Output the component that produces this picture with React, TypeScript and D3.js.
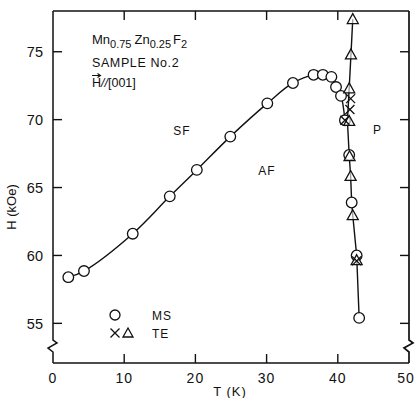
import React from "react";
import * as d3 from "d3";

// MS (circles)
const msT = [2.15, 4.35, 11.2, 16.4, 20.2, 24.9, 30.1, 33.7, 36.6, 37.9, 39.1, 39.75, 40.45, 41.0, 41.6, 41.95, 42.65, 43.0];
const msH = [58.4, 58.85, 61.6, 64.35, 66.3, 68.75, 71.2, 72.7, 73.3, 73.3, 73.15, 72.4, 71.75, 69.95, 67.4, 63.9, 60.0, 55.4];
// TE triangles
const triT = [42.1, 41.85, 41.6, 41.6, 41.65, 41.8, 42.1, 42.65];
const triH = [77.4, 74.8, 72.3, 69.9, 67.3, 65.85, 62.96, 59.65];
// TE crosses
const crossT = [41.8, 41.7, 41.0, 42.65];
const crossH = [71.55, 70.75, 69.95, 59.6];
// P boundary line
const pLineT = [42.1, 41.85, 41.6, 41.35, 41.6, 41.8, 41.95, 42.1, 42.65, 43.0];
const pLineH = [77.4, 74.8, 72.3, 69.9, 67.4, 65.85, 63.9, 62.96, 60.0, 55.4];

const xTicks = [0, 10, 20, 30, 40, 50];
const yTicks = [55, 60, 65, 70, 75];

const L = 53, R = 409, T = 11, B = 363;
const FONT = "'Liberation Sans', Arial, Helvetica, sans-serif";

export default function App() {
  const x = d3.scaleLinear().domain([0, 50]).range([L, R]);
  const y = d3.scaleLinear().domain([52.08, 78]).range([B, T]);

  const sfLine = d3
    .line<number>()
    .x((i) => x(msT[i]))
    .y((i) => y(msH[i]))
    .curve(d3.curveCatmullRom.alpha(0.5))(d3.range(0, 14));

  const pLine = d3
    .line<number>()
    .x((i) => x(pLineT[i]))
    .y((i) => y(pLineH[i]))(d3.range(pLineT.length));

  const tri = (cx: number, cy: number, s = 5.5) =>
    `M${cx},${cy - s}L${cx + s},${cy + s * 0.8}L${cx - s},${cy + s * 0.8}Z`;
  const cross = (cx: number, cy: number, s = 4.5) =>
    `M${cx - s},${cy - s}L${cx + s},${cy + s}M${cx - s},${cy + s}L${cx + s},${cy - s}`;

  const yBreak = 346;
  const zig = (ax: number) =>
    `M${ax},${T}L${ax},${yBreak - 6}L${ax + 4},${yBreak - 3}L${ax - 5},${yBreak + 2}L${ax},${yBreak + 6}L${ax},${B}`;

  return (
    <svg width={415} height={398} style={{ position: "absolute", left: 0, top: 0, background: "#fff" }}>
      <rect width={415} height={398} fill="#fff" />
      {/* frame */}
      <line x1={L} y1={T} x2={R} y2={T} stroke="#111" strokeWidth={1.5} />
      <line x1={L} y1={B} x2={R} y2={B} stroke="#111" strokeWidth={1.7} />
      <path d={zig(L)} fill="none" stroke="#111" strokeWidth={1.5} />
      <path d={zig(R)} fill="none" stroke="#111" strokeWidth={1.7} />
      {/* ticks */}
      {xTicks.slice(1, -1).map((t) => (
        <g key={"xt" + t}>
          <line x1={x(t)} x2={x(t)} y1={B} y2={B - 9} stroke="#111" strokeWidth={1.4} />
          <line x1={x(t)} x2={x(t)} y1={T} y2={T + 9} stroke="#111" strokeWidth={1.4} />
        </g>
      ))}
      {yTicks.map((t) => (
        <g key={"yt" + t}>
          <line x1={L} x2={L + 9} y1={y(t)} y2={y(t)} stroke="#111" strokeWidth={1.4} />
          <line x1={R} x2={R - 9} y1={y(t)} y2={y(t)} stroke="#111" strokeWidth={1.4} />
        </g>
      ))}
      {/* tick labels */}
      {xTicks.map((t) => (
        <text key={"xl" + t} x={t === 50 ? x(t) - 3 : x(t)} y={383} fontSize={14} fontFamily={FONT} textAnchor="middle" fill="#111" letterSpacing={1}>
          {t}
        </text>
      ))}
      {yTicks.map((t) => (
        <text key={"yl" + t} x={43} y={y(t)} dy="0.36em" fontSize={14.5} fontFamily={FONT} textAnchor="end" fill="#111">
          {t}
        </text>
      ))}
      <text x={230} y={396} fontSize={13} fontFamily={FONT} textAnchor="middle" fill="#111" letterSpacing={1}>
        T (K)
      </text>
      <text transform="translate(16,207) rotate(-90)" fontSize={13} fontFamily={FONT} textAnchor="middle" fill="#111">
        H (kOe)
      </text>

      {/* annotations */}
      <text x={92} y={44} fontSize={13} fontFamily={FONT} fill="#111">
        Mn
        <tspan fontSize={11} dy={4}>0.75</tspan>
        <tspan dy={-4} dx={3}>Zn</tspan>
        <tspan fontSize={11} dy={4}>0.25</tspan>
        <tspan dy={-4} dx={2}>F</tspan>
        <tspan fontSize={11} dy={4}>2</tspan>
      </text>
      <text x={92} y={67} fontSize={12.5} fontFamily={FONT} fill="#111" letterSpacing={0.6}>
        SAMPLE No.2
      </text>
      <text x={92} y={87} fontSize={12.5} fontFamily={FONT} fill="#111">
        H<tspan fontStyle="italic">//</tspan>[001]
      </text>
      <path d="M92,75.5L100,75.5M97.5,73.5L100.5,75.5L97.5,77.5" fill="none" stroke="#111" strokeWidth={1.1} />
      <text x={182} y={135} fontSize={12} fontFamily={FONT} textAnchor="middle" fill="#111" letterSpacing={1}>
        SF
      </text>
      <text x={267} y={175} fontSize={12} fontFamily={FONT} textAnchor="middle" fill="#111" letterSpacing={1}>
        AF
      </text>
      <text x={377} y={134} fontSize={12} fontFamily={FONT} textAnchor="middle" fill="#111">
        P
      </text>

      {/* curves */}
      <path d={sfLine || ""} fill="none" stroke="#111" strokeWidth={1.4} />
      <path d={pLine || ""} fill="none" stroke="#111" strokeWidth={1.4} />

      {/* markers */}
      {msT.map((t, i) => (
        <circle key={"c" + i} cx={x(t)} cy={y(msH[i])} r={5.3} fill="#fff" stroke="#111" strokeWidth={1.3} />
      ))}
      {triT.map((t, i) => (
        <path key={"t" + i} d={tri(x(t), y(triH[i]))} fill="#fff" fillOpacity={0.6} stroke="#111" strokeWidth={1.3} />
      ))}
      {crossT.map((t, i) => (
        <path key={"x" + i} d={cross(x(t), y(crossH[i]))} fill="none" stroke="#111" strokeWidth={1.3} />
      ))}

      {/* legend */}
      <circle cx={115} cy={315} r={5} fill="#fff" stroke="#111" strokeWidth={1.3} />
      <text x={152} y={319.5} fontSize={12} fontFamily={FONT} fill="#111" letterSpacing={1}>MS</text>
      <path d={cross(115, 333, 4.5)} fill="none" stroke="#111" strokeWidth={1.3} />
      <path d={tri(128, 333, 5)} fill="none" stroke="#111" strokeWidth={1.3} />
      <text x={152} y={337.5} fontSize={12} fontFamily={FONT} fill="#111" letterSpacing={1}>TE</text>
    </svg>
  );
}
